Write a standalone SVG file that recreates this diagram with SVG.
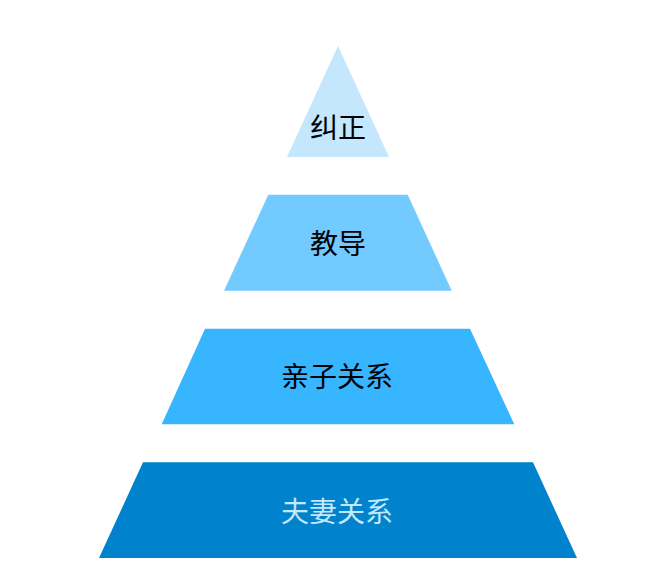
<svg xmlns="http://www.w3.org/2000/svg" width="672" height="573" viewBox="0 0 672 573">
<style>
text{font-family:"Noto Sans CJK SC","Noto Sans",sans-serif;font-size:28px;font-weight:400;text-anchor:middle;dominant-baseline:central}
.dark{fill:#000000}
.light{fill:#c3e7fb}
</style>
<rect width="672" height="573" fill="#ffffff"/>
<g id="level1">
<polygon points="338,46 389,157 287,157" fill="#c4e7fe"/>
<text class="dark" x="338" y="126">纠正</text>
</g>
<g id="level2">
<polygon points="268.3,194.7 407.7,194.7 451.7,290.7 224,290.7" fill="#73caff"/>
<text class="dark" x="338" y="242">教导</text>
</g>
<g id="level3">
<polygon points="205,328.7 470,328.7 514.3,424.3 161.7,424.3" fill="#38b5ff"/>
<text class="dark" x="337" y="375">亲子关系</text>
</g>
<g id="level4">
<polygon points="143,462.3 533,462.3 577,558 99,558" fill="#0083cc"/>
<text class="light" x="337" y="510">夫妻关系</text>
</g>
<g id="connectors"/>
</svg>
